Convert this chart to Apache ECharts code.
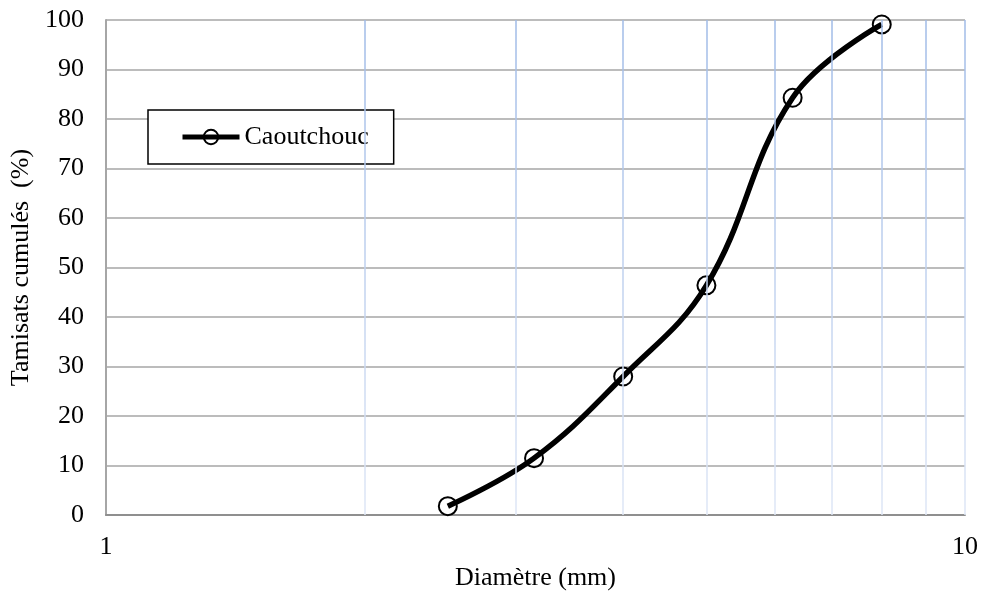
<!DOCTYPE html>
<html>
<head>
<meta charset="utf-8">
<script src="https://cdn.jsdelivr.net/npm/echarts@6/dist/echarts.min.js"></script>
<style>html,body{margin:0;padding:0;background:#fff}#c{width:983px;height:596px}</style>
</head>
<body>
<div id="c"></div>
<script>
var seriesName = 'Caoutchouc';
var diameters = [2.5, 3.15, 4, 5, 6.3, 8];
var passing = [1.8, 11.5, 28, 46.4, 84.3, 99.1];
var xMinorGrid = [2, 3, 4, 5, 6, 7, 8, 9, 10];
var xTitle = 'Diamètre (mm)';
var yTitle = 'Tamisats cumulés  (%)';

var FONT = 'Liberation Serif';
var FS = 26;
var chart = echarts.init(document.getElementById('c'), null, {renderer: 'canvas'});
var grad = {
  type: 'linear', x: 0, y: 20, x2: 0, y2: 520, global: true,
  colorStops: [{offset: 0, color: '#a0bbe7'}, {offset: 1, color: '#dfe7f6'}]
};
chart.setOption({
  animation: false,
  backgroundColor: '#fff',
  textStyle: {fontFamily: FONT},
  grid: {left: 106, width: 859, top: 20, height: 500, containLabel: false},
  legend: {
    data: [seriesName],
    left: 148, top: 110,
    orient: 'horizontal',
    backgroundColor: '#fff',
    borderColor: '#000', borderWidth: 1.5,
    padding: [14, 25, 14, 32],
    itemWidth: 57, itemHeight: 18,
    lineStyle: {width: 5, color: '#000'},
    itemStyle: {color: 'rgba(0,0,0,0)', borderColor: '#000', borderWidth: 2},
    textStyle: {fontFamily: FONT, fontSize: FS, color: '#000', lineHeight: 26}
  },
  xAxis: {
    type: 'log', logBase: 10, min: 1, max: 10,
    name: xTitle, nameLocation: 'middle', nameGap: 46,
    nameTextStyle: {fontFamily: FONT, fontSize: FS, color: '#000'},
    axisLine: {show: true, lineStyle: {color: '#8f8f8f', width: 2}},
    axisTick: {show: false},
    axisLabel: {fontFamily: FONT, fontSize: FS, color: '#000', margin: 19},
    splitLine: {show: false}
  },
  yAxis: {
    type: 'value', min: 0, max: 100, interval: 10,
    name: yTitle, nameLocation: 'middle', nameGap: 70,
    nameTextStyle: {fontFamily: FONT, fontSize: FS, color: '#000'},
    axisLine: {show: true, lineStyle: {color: '#a6a6a6', width: 2}},
    axisTick: {show: false},
    axisLabel: {fontFamily: FONT, fontSize: FS, color: '#000', margin: 22},
    splitLine: {show: true, lineStyle: {color: '#a6a6a6', width: 1.5}}
  },
  series: [
    {
      name: 'grid', type: 'line', data: [], z: 1, silent: true,
      markLine: {
        silent: true, symbol: 'none', animation: false,
        label: {show: false},
        lineStyle: {color: grad, width: 1.5, type: 'solid'},
        data: xMinorGrid.map(function (v) { return {xAxis: v}; })
      }
    },
    {
      name: seriesName, type: 'line', z: 3,
      data: diameters.map(function (d, i) { return [d, passing[i]]; }),
      smooth: 0.4,
      symbol: 'circle', symbolSize: 18,
      showSymbol: true,
      lineStyle: {color: '#000', width: 5.5},
      itemStyle: {color: 'rgba(0,0,0,0)', borderColor: '#000', borderWidth: 2}
    }
  ]
});
</script>
</body>
</html>
